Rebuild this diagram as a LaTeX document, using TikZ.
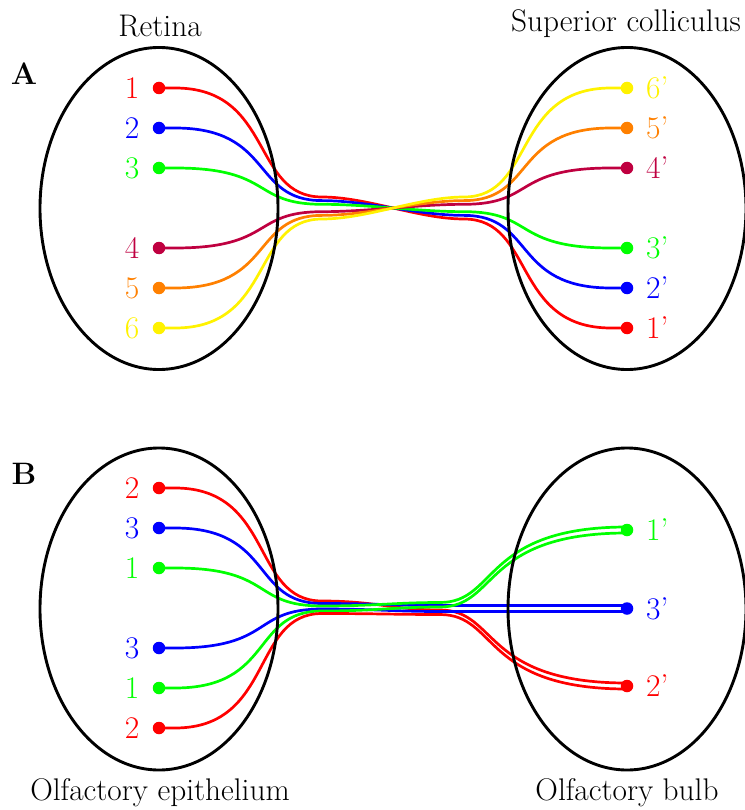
\documentclass[tikz,border=0pt]{standalone}
\usetikzlibrary{calc}
\pgfdeclarelayer{bg}
\pgfsetlayers{bg,main}
\begin{document}
\begin{tikzpicture}[x=1pt,y=-1pt,
  wire/.style={line width=2.7pt},
  oval/.style={draw=black,line width=2.9pt},
  dot/.style={circle,inner sep=0pt,minimum size=12.5pt},
  num/.style={font=\fontsize{31.5}{36}\selectfont,inner sep=0pt},
  lbl/.style={font=\fontsize{31.3}{36}\selectfont,inner sep=0pt,anchor=base},
  panel/.style={font=\fontsize{31}{36}\selectfont\bfseries,inner sep=0pt,anchor=base}]
\useasboundingbox (0,0) rectangle (744,810);

% ---------- Panel A ----------
\draw[oval] (159,208.5) ellipse [x radius=119pt, y radius=161pt];
\draw[oval] (627,208.5) ellipse [x radius=119pt, y radius=161pt];

\foreach \n/\y/\c in {1/88/red,2/128/blue,3/168/green,4/248/purple,5/288/orange,6/328/yellow}{
  \node[dot,fill=\c] (la\n) at (159,\y) {};
  \node[num,text=\c] (lta\n) at (132,\y) {\n};
}
\foreach \n/\y/\c in {6/88/yellow,5/128/orange,4/168/purple,3/248/green,2/288/blue,1/328/red}{
  \node[dot,fill=\c] (ra\n) at (627,\y) {};
  \node[num,text=\c,anchor=west] (rta\n) at (646,\y) {\n'};
}

\begin{pgfonlayer}{bg}
\foreach \n/\a/\q/\p/\b/\c in {1/88/197/219/328/red,2/128/200.6/215.4/288/blue,3/168/204.3/211.7/248/green,4/248/211.7/204.3/168/purple,5/288/215.4/200.6/128/orange,6/328/219/197/88/yellow}{
  \draw[wire,\c] (la\n.center) -- (175,\a) .. controls (274,\a) and (251,\q) .. (322,\q)
    .. controls (367,\q) and (419,\p) .. (464,\p)
    .. controls (535,\p) and (512,\b) .. (611,\b) -- (ra\n.center);
}
\end{pgfonlayer}

\node[lbl] (retina) at (160,37) {Retina};
\node[lbl] (sc) at (626,32) {Superior colliculus};
\node[panel] (pa) at (24,85) {A};

% ---------- Panel B ----------
\draw[oval] (159,609) ellipse [x radius=119pt, y radius=161pt];
\draw[oval] (627,609) ellipse [x radius=119pt, y radius=161pt];

\foreach \n/\y/\c/\t in {1/488/red/2,2/528/blue/3,3/568/green/1,4/648/blue/3,5/688/green/1,6/728/red/2}{
  \node[dot,fill=\c] (lb\n) at (159,\y) {};
  \node[num,text=\c] (ltb\n) at (132,\y) {\t};
}
\foreach \n/\y/\c in {1/530/green,3/608.5/blue,2/686/red}{
  \node[dot,fill=\c] (rb\n) at (627,\y) {};
  \node[num,text=\c,anchor=west] (rtb\n) at (646,\y) {\n'};
}

\begin{pgfonlayer}{bg}
\draw[wire,red]   (lb1.center) -- (175,488) .. controls (274,488) and (251,601) .. (322,601) .. controls (375,601) and (395,610) .. (440,610) .. controls (498,610) and (482,683) .. ([yshift=3pt]rb2.center);
\draw[wire,blue]  (lb2.center) -- (175,528) .. controls (274,528) and (251,603.5) .. (322,603.5) .. controls (375,603.5) and (395,605.5) .. (440,605.5) -- ([yshift=3pt]rb3.center);
\draw[wire,green] (lb3.center) -- (175,568) .. controls (274,568) and (251,606) .. (322,606) .. controls (375,606) and (395,602.5) .. (440,602.5) .. controls (498,602.5) and (482,527) .. ([yshift=3pt]rb1.center);
\draw[wire,blue]  (lb4.center) -- (175,648) .. controls (274,648) and (251,609) .. (322,609) .. controls (375,609) and (395,611.5) .. (440,611.5) -- ([yshift=-3pt]rb3.center);
\draw[wire,green] (lb5.center) -- (175,688) .. controls (274,688) and (251,611) .. (322,611) .. controls (375,611) and (395,607) .. (440,607) .. controls (498,607) and (482,533) .. ([yshift=-3pt]rb1.center);
\draw[wire,red]   (lb6.center) -- (175,728) .. controls (274,728) and (251,613.5) .. (322,613.5) .. controls (375,613.5) and (395,614.5) .. (440,614.5) .. controls (498,614.5) and (482,689) .. ([yshift=-3pt]rb2.center);
\end{pgfonlayer}

\node[panel] (pb) at (24,484) {B};
\node[lbl] (oe) at (160,800) {Olfactory epithelium};
\node[lbl] (ob) at (627,800) {Olfactory bulb};
\end{tikzpicture}
\end{document}
